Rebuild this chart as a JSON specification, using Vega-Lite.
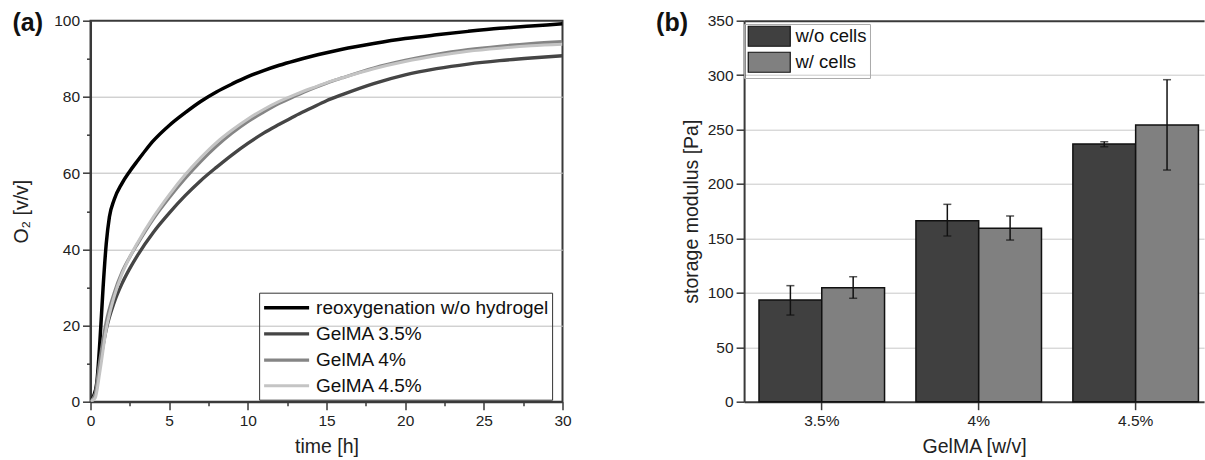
{
  "$schema": "https://vega.github.io/schema/vega-lite/v6.json",
  "padding": {"left": 10.5, "top": 9.7, "right": 0, "bottom": 0},
  "spacing": 181.6,
  "bounds": "flush",
  "config": {
    "font": "Liberation Sans",
    "axis": {"labelFontSize": 15.5, "titleFontSize": 19.5, "labelColor": "#222", "titleColor": "#222", "titleFontWeight": "normal", "domainColor": "#3a3a3a", "domainWidth": 2, "tickColor": "#3a3a3a", "tickWidth": 1.5},
    "legend": {"labelFontSize": 19, "labelColor": "#111", "labelLimit": 400},
    "title": {"fontSize": 25, "fontWeight": "bold", "color": "#111"}
  },
  "hconcat": [
    {
      "width": 472,
      "height": 381,
      "view": {"stroke": "#3a3a3a", "strokeWidth": 2},
      "title": {"text": "(a)", "anchor": "start", "frame": "group", "orient": "top", "baseline": "alphabetic", "offset": -14, "dx": -78, "dy": 28},
      "data": {"values": [
        {"series": "reoxygenation w/o hydrogel", "t": 0, "o2": 0},
        {"series": "reoxygenation w/o hydrogel", "t": 0.2, "o2": 1.5},
        {"series": "reoxygenation w/o hydrogel", "t": 0.4, "o2": 5},
        {"series": "reoxygenation w/o hydrogel", "t": 0.6, "o2": 16},
        {"series": "reoxygenation w/o hydrogel", "t": 0.8, "o2": 30},
        {"series": "reoxygenation w/o hydrogel", "t": 1.0, "o2": 41.5},
        {"series": "reoxygenation w/o hydrogel", "t": 1.2, "o2": 48.5},
        {"series": "reoxygenation w/o hydrogel", "t": 1.5, "o2": 53},
        {"series": "reoxygenation w/o hydrogel", "t": 2, "o2": 57.3},
        {"series": "reoxygenation w/o hydrogel", "t": 2.5, "o2": 60.5},
        {"series": "reoxygenation w/o hydrogel", "t": 3, "o2": 63.3},
        {"series": "reoxygenation w/o hydrogel", "t": 3.5, "o2": 66},
        {"series": "reoxygenation w/o hydrogel", "t": 4, "o2": 68.5},
        {"series": "reoxygenation w/o hydrogel", "t": 5, "o2": 72.5},
        {"series": "reoxygenation w/o hydrogel", "t": 6, "o2": 75.8},
        {"series": "reoxygenation w/o hydrogel", "t": 7, "o2": 78.8},
        {"series": "reoxygenation w/o hydrogel", "t": 8, "o2": 81.3},
        {"series": "reoxygenation w/o hydrogel", "t": 9, "o2": 83.4},
        {"series": "reoxygenation w/o hydrogel", "t": 10, "o2": 85.3},
        {"series": "reoxygenation w/o hydrogel", "t": 11, "o2": 86.9},
        {"series": "reoxygenation w/o hydrogel", "t": 12, "o2": 88.3},
        {"series": "reoxygenation w/o hydrogel", "t": 13, "o2": 89.5},
        {"series": "reoxygenation w/o hydrogel", "t": 14, "o2": 90.6},
        {"series": "reoxygenation w/o hydrogel", "t": 15, "o2": 91.6},
        {"series": "reoxygenation w/o hydrogel", "t": 16, "o2": 92.5},
        {"series": "reoxygenation w/o hydrogel", "t": 18, "o2": 94},
        {"series": "reoxygenation w/o hydrogel", "t": 20, "o2": 95.3},
        {"series": "reoxygenation w/o hydrogel", "t": 22, "o2": 96.3},
        {"series": "reoxygenation w/o hydrogel", "t": 24, "o2": 97.2},
        {"series": "reoxygenation w/o hydrogel", "t": 26, "o2": 98},
        {"series": "reoxygenation w/o hydrogel", "t": 28, "o2": 98.6},
        {"series": "reoxygenation w/o hydrogel", "t": 30, "o2": 99.2},
        {"series": "GelMA 3.5%", "t": 0, "o2": 0},
        {"series": "GelMA 3.5%", "t": 0.3, "o2": 2},
        {"series": "GelMA 3.5%", "t": 0.6, "o2": 10},
        {"series": "GelMA 3.5%", "t": 1.0, "o2": 19},
        {"series": "GelMA 3.5%", "t": 1.5, "o2": 26},
        {"series": "GelMA 3.5%", "t": 2, "o2": 31},
        {"series": "GelMA 3.5%", "t": 2.5, "o2": 35},
        {"series": "GelMA 3.5%", "t": 3, "o2": 38.5},
        {"series": "GelMA 3.5%", "t": 4, "o2": 44.5},
        {"series": "GelMA 3.5%", "t": 5, "o2": 49.5},
        {"series": "GelMA 3.5%", "t": 6, "o2": 54},
        {"series": "GelMA 3.5%", "t": 7, "o2": 58},
        {"series": "GelMA 3.5%", "t": 8, "o2": 61.5},
        {"series": "GelMA 3.5%", "t": 9, "o2": 64.8},
        {"series": "GelMA 3.5%", "t": 10, "o2": 67.8},
        {"series": "GelMA 3.5%", "t": 11, "o2": 70.5},
        {"series": "GelMA 3.5%", "t": 12, "o2": 72.8},
        {"series": "GelMA 3.5%", "t": 13, "o2": 75},
        {"series": "GelMA 3.5%", "t": 14, "o2": 77},
        {"series": "GelMA 3.5%", "t": 15, "o2": 79},
        {"series": "GelMA 3.5%", "t": 16, "o2": 80.6},
        {"series": "GelMA 3.5%", "t": 18, "o2": 83.5},
        {"series": "GelMA 3.5%", "t": 20, "o2": 85.8},
        {"series": "GelMA 3.5%", "t": 22, "o2": 87.4},
        {"series": "GelMA 3.5%", "t": 24, "o2": 88.6},
        {"series": "GelMA 3.5%", "t": 26, "o2": 89.5},
        {"series": "GelMA 3.5%", "t": 28, "o2": 90.2},
        {"series": "GelMA 3.5%", "t": 30, "o2": 90.8},
        {"series": "GelMA 4%", "t": 0, "o2": 0},
        {"series": "GelMA 4%", "t": 0.3, "o2": 2},
        {"series": "GelMA 4%", "t": 0.6, "o2": 11},
        {"series": "GelMA 4%", "t": 1.0, "o2": 21},
        {"series": "GelMA 4%", "t": 1.5, "o2": 28.5},
        {"series": "GelMA 4%", "t": 2, "o2": 34},
        {"series": "GelMA 4%", "t": 2.5, "o2": 38},
        {"series": "GelMA 4%", "t": 3, "o2": 41.5},
        {"series": "GelMA 4%", "t": 4, "o2": 48},
        {"series": "GelMA 4%", "t": 5, "o2": 53.5},
        {"series": "GelMA 4%", "t": 6, "o2": 58.5},
        {"series": "GelMA 4%", "t": 7, "o2": 63},
        {"series": "GelMA 4%", "t": 8, "o2": 67},
        {"series": "GelMA 4%", "t": 9, "o2": 70.5},
        {"series": "GelMA 4%", "t": 10, "o2": 73.5},
        {"series": "GelMA 4%", "t": 11, "o2": 76},
        {"series": "GelMA 4%", "t": 12, "o2": 78.3},
        {"series": "GelMA 4%", "t": 13, "o2": 80.2},
        {"series": "GelMA 4%", "t": 14, "o2": 82},
        {"series": "GelMA 4%", "t": 15, "o2": 83.6},
        {"series": "GelMA 4%", "t": 16, "o2": 85},
        {"series": "GelMA 4%", "t": 18, "o2": 87.6},
        {"series": "GelMA 4%", "t": 20, "o2": 89.6},
        {"series": "GelMA 4%", "t": 22, "o2": 91.2},
        {"series": "GelMA 4%", "t": 24, "o2": 92.4},
        {"series": "GelMA 4%", "t": 26, "o2": 93.3},
        {"series": "GelMA 4%", "t": 28, "o2": 94},
        {"series": "GelMA 4%", "t": 30, "o2": 94.5},
        {"series": "GelMA 4.5%", "t": 0, "o2": 0},
        {"series": "GelMA 4.5%", "t": 0.3, "o2": 1},
        {"series": "GelMA 4.5%", "t": 0.6, "o2": 8},
        {"series": "GelMA 4.5%", "t": 1.0, "o2": 19},
        {"series": "GelMA 4.5%", "t": 1.5, "o2": 27.5},
        {"series": "GelMA 4.5%", "t": 2, "o2": 33.5},
        {"series": "GelMA 4.5%", "t": 2.5, "o2": 38},
        {"series": "GelMA 4.5%", "t": 3, "o2": 41.8},
        {"series": "GelMA 4.5%", "t": 4, "o2": 48.5},
        {"series": "GelMA 4.5%", "t": 5, "o2": 54.3},
        {"series": "GelMA 4.5%", "t": 6, "o2": 59.5},
        {"series": "GelMA 4.5%", "t": 7, "o2": 64},
        {"series": "GelMA 4.5%", "t": 8, "o2": 68},
        {"series": "GelMA 4.5%", "t": 9, "o2": 71.3},
        {"series": "GelMA 4.5%", "t": 10, "o2": 74.2},
        {"series": "GelMA 4.5%", "t": 11, "o2": 76.7},
        {"series": "GelMA 4.5%", "t": 12, "o2": 78.8},
        {"series": "GelMA 4.5%", "t": 13, "o2": 80.6},
        {"series": "GelMA 4.5%", "t": 14, "o2": 82.2},
        {"series": "GelMA 4.5%", "t": 15, "o2": 83.7},
        {"series": "GelMA 4.5%", "t": 16, "o2": 85},
        {"series": "GelMA 4.5%", "t": 18, "o2": 87.4},
        {"series": "GelMA 4.5%", "t": 20, "o2": 89.3},
        {"series": "GelMA 4.5%", "t": 22, "o2": 90.8},
        {"series": "GelMA 4.5%", "t": 24, "o2": 92},
        {"series": "GelMA 4.5%", "t": 26, "o2": 92.8},
        {"series": "GelMA 4.5%", "t": 28, "o2": 93.4},
        {"series": "GelMA 4.5%", "t": 30, "o2": 93.8}
      ]},
      "mark": {"type": "line", "interpolate": "monotone", "clip": true},
      "encoding": {
        "x": {"field": "t", "type": "quantitative", "scale": {"domain": [0, 30], "nice": false},
          "axis": {"title": "time [h]", "values": [0, 2.5, 5, 7.5, 10, 12.5, 15, 17.5, 20, 22.5, 25, 27.5, 30], "labelExpr": "datum.value % 5 == 0 ? datum.label : ''", "tickSize": {"condition": {"test": "datum.value % 5 == 0", "value": 8}, "value": 4}, "grid": false, "labelPadding": 4, "titlePadding": 8, "labelFlush": false}},
        "y": {"field": "o2", "type": "quantitative", "scale": {"domain": [0, 100], "nice": false},
          "axis": {"title": "O₂ [v/v]", "values": [0, 10, 20, 30, 40, 50, 60, 70, 80, 90, 100], "labelExpr": "datum.value % 20 == 0 ? datum.label : ''", "tickSize": {"condition": {"test": "datum.value % 20 == 0", "value": 8}, "value": 4}, "grid": true, "gridColor": "#bdbdbd", "gridOpacity": {"condition": {"test": "datum.value % 20 == 0 && datum.value > 0 && datum.value < 100", "value": 1}, "value": 0}, "labelPadding": 3, "titlePadding": 22}},
        "color": {"field": "series", "type": "ordinal", "scale": {"domain": ["reoxygenation w/o hydrogel", "GelMA 3.5%", "GelMA 4%", "GelMA 4.5%"], "range": ["#000000", "#454545", "#858585", "#c4c4c4"]},
          "legend": {"title": null, "orient": "none", "legendX": 168.6, "legendY": 272, "strokeColor": "#333", "padding": 3, "symbolType": "M-1,0H3.5", "symbolSize": 400, "labelOffset": 30, "rowPadding": 4.2, "symbolFillColor": "transparent"}},
        "strokeWidth": {"field": "series", "type": "ordinal", "scale": {"domain": ["reoxygenation w/o hydrogel", "GelMA 3.5%", "GelMA 4%", "GelMA 4.5%"], "range": [3.5, 3, 3, 1.5]},
          "legend": {"title": null, "orient": "none", "legendX": 168.6, "legendY": 272}}
      }
    },
    {
      "width": 460,
      "height": 381,
      "view": {"stroke": null},
      "title": {"text": "(b)", "anchor": "start", "frame": "group", "orient": "top", "baseline": "alphabetic", "offset": -14, "dx": -88, "dy": 28},
      "data": {"values": [
        {"conc": "3.5%", "cells": "w/o cells", "value": 93.4, "lo": 79.6, "hi": 106.6},
        {"conc": "3.5%", "cells": "w/ cells", "value": 104.7, "lo": 95, "hi": 114.8},
        {"conc": "4%", "cells": "w/o cells", "value": 166.3, "lo": 152.2, "hi": 181.3},
        {"conc": "4%", "cells": "w/ cells", "value": 159.3, "lo": 148.5, "hi": 170.6},
        {"conc": "4.5%", "cells": "w/o cells", "value": 236.7, "lo": 234.2, "hi": 238.8},
        {"conc": "4.5%", "cells": "w/ cells", "value": 254.2, "lo": 212.8, "hi": 295.8}
      ]},
      "encoding": {
        "x": {"field": "conc", "type": "nominal", "sort": ["3.5%", "4%", "4.5%"], "scale": {"paddingInner": 0.2, "paddingOuter": 0.0655, "align": 0.725},
          "axis": {"title": "GelMA [w/v]", "labelAngle": 0, "tickSize": 8, "labelPadding": 4, "titlePadding": 8, "grid": false}},
        "xOffset": {"field": "cells", "type": "nominal", "sort": ["w/o cells", "w/ cells"], "scale": {"paddingInner": 0, "paddingOuter": 0}}
      },
      "layer": [
        {
          "mark": {"type": "bar", "stroke": "#111", "strokeWidth": 1.5},
          "encoding": {
            "y": {"field": "value", "type": "quantitative", "scale": {"domain": [0, 350], "nice": false},
              "axis": {"title": "storage modulus [Pa]", "values": [0, 25, 50, 75, 100, 125, 150, 175, 200, 225, 250, 275, 300, 325, 350], "labelExpr": "datum.value % 50 == 0 ? datum.label : ''", "tickSize": {"condition": {"test": "datum.value % 50 == 0", "value": 8}, "value": 4}, "grid": true, "gridColor": {"condition": {"test": "datum.value == 350", "value": "#3a3a3a"}, "value": "#c8c8c8"}, "gridWidth": {"condition": {"test": "datum.value == 350", "value": 2}, "value": 1}, "gridOpacity": {"condition": {"test": "datum.value % 50 == 0 && datum.value > 0", "value": 1}, "value": 0}, "labelPadding": 3, "titlePadding": 6}},
            "fill": {"field": "cells", "type": "nominal", "sort": ["w/o cells", "w/ cells"], "scale": {"domain": ["w/o cells", "w/ cells"], "range": ["#404040", "#808080"]},
              "legend": {"title": null, "orient": "none", "legendX": 653.5, "legendY": 3.3, "strokeColor": "#aaaaaa", "padding": 3, "symbolType": "M-1,-1.25H4.25V1.25H-1Z", "symbolSize": 256, "labelOffset": 30, "labelFontSize": 18.5, "rowPadding": 0, "symbolStrokeColor": "#111", "symbolStrokeWidth": 1.2}}
          }
        },
        {
          "mark": {"type": "rule", "color": "#111", "strokeWidth": 1.5},
          "encoding": {"y": {"field": "lo", "type": "quantitative"}, "y2": {"field": "hi"}}
        },
        {
          "mark": {"type": "tick", "orient": "horizontal", "size": 8, "thickness": 1.5, "color": "#111"},
          "encoding": {"y": {"field": "lo", "type": "quantitative"}}
        },
        {
          "mark": {"type": "tick", "orient": "horizontal", "size": 8, "thickness": 1.5, "color": "#111"},
          "encoding": {"y": {"field": "hi", "type": "quantitative"}}
        }
      ]
    }
  ]
}
